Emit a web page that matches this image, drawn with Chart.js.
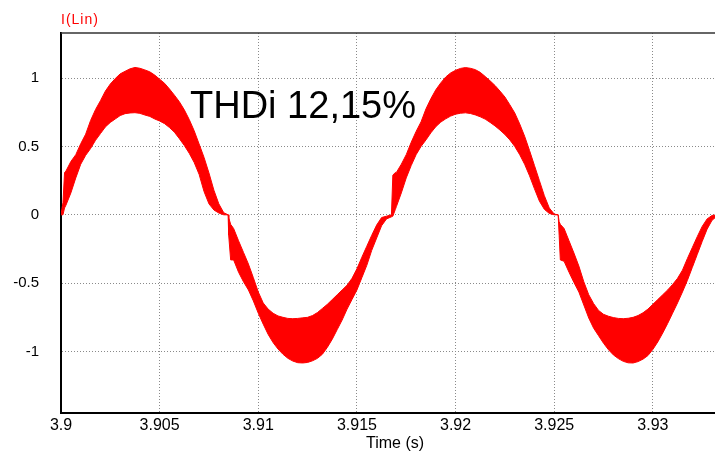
<!DOCTYPE html>
<html>
<head>
<meta charset="utf-8">
<script src="https://cdn.jsdelivr.net/npm/chart.js@4/dist/chart.umd.min.js"></script>
<style>
  html, body { margin: 0; padding: 0; background: #fff; overflow: hidden; }
  canvas { display: block; }
</style>
</head>
<body>
<canvas id="c" width="715" height="451"></canvas>
<script>
// Line current I(Lin): upper and lower edges of the switching-ripple band.
// Time is given in milliseconds after t0.
const t0 = 3.9;
const timeMs = [
  0, 0.1, 0.18, 0.25, 0.5, 0.75, 1.0, 1.25, 1.5, 1.75, 2.0, 2.25, 2.5, 2.75, 3.0, 3.25, 3.5, 3.75,
  4.0, 4.25, 4.5, 4.75, 5.0, 5.25, 5.5, 5.75, 6.0, 6.25, 6.5, 6.75, 7.0, 7.25, 7.5, 7.75, 8.0, 8.25,
  8.47, 8.5, 8.6, 8.75, 9.0, 9.25, 9.5, 9.75, 10.0, 10.25, 10.5, 10.75, 11.0, 11.25, 11.5, 11.75,
  12.0, 12.25, 12.5, 12.75, 13.0, 13.25, 13.5, 13.75, 14.0, 14.25, 14.5, 14.75, 15.0, 15.25, 15.5,
  15.75, 16.0, 16.25, 16.5, 16.75, 16.82, 16.95, 17.0, 17.25, 17.5, 17.75, 18.0, 18.25, 18.5, 18.75,
  19.0, 19.25, 19.5, 19.75, 20.0, 20.25, 20.5, 20.75, 21.0, 21.25, 21.5, 21.75, 22.0, 22.25, 22.5,
  22.75, 23.0, 23.25, 23.5, 23.75, 24.0, 24.25, 24.5, 24.75, 25.0, 25.2, 25.25, 25.31, 25.5, 25.75,
  26.0, 26.25, 26.5, 26.75, 27.0, 27.25, 27.5, 27.75, 28.0, 28.25, 28.5, 28.75, 29.0, 29.25, 29.5,
  29.75, 30.0, 30.25, 30.5, 30.75, 31.0, 31.25, 31.5, 31.75, 32.0, 32.25, 32.5, 32.75, 33.0, 33.25
];
const iUpper = [
  0, 0.09, 0.31, 0.32, 0.39, 0.44, 0.52, 0.59, 0.69, 0.77, 0.835, 0.905, 0.957, 0.997, 1.031, 1.05, 1.068, 1.078,
  1.072, 1.06, 1.046, 1.022, 0.992, 0.962, 0.92, 0.875, 0.827, 0.768, 0.697, 0.615, 0.518, 0.42, 0.306, 0.18, 0.08, 0.015,
  0, -0.02, -0.07, -0.10, -0.19, -0.275, -0.36, -0.46, -0.565, -0.645, -0.69, -0.72, -0.74, -0.75, -0.758, -0.76,
  -0.758, -0.754, -0.75, -0.737, -0.715, -0.685, -0.655, -0.62, -0.585, -0.55, -0.515, -0.465, -0.395, -0.31, -0.23,
  -0.15, -0.075, -0.02, -0.01, 0, 0.29, 0.31, 0.31, 0.37, 0.44, 0.53, 0.61, 0.68, 0.775, 0.85,
  0.915, 0.965, 1.008, 1.038, 1.057, 1.071, 1.077, 1.072, 1.062, 1.042, 1.012, 0.98, 0.946, 0.905, 0.862,
  0.805, 0.745, 0.665, 0.575, 0.47, 0.36, 0.25, 0.14, 0.05, 0.005, 0, -0.05, -0.07, -0.10, -0.19,
  -0.28, -0.375, -0.49, -0.585, -0.65, -0.70, -0.728, -0.742, -0.752, -0.758, -0.76, -0.757, -0.75, -0.737, -0.717,
  -0.69, -0.655, -0.62, -0.585, -0.55, -0.51, -0.465, -0.405, -0.32, -0.24, -0.16, -0.085, -0.03, -0.005, 0
];
const iLower = [
  0, 0, 0.05, 0.07, 0.16, 0.27, 0.37, 0.435, 0.485, 0.545, 0.594, 0.643, 0.676, 0.701, 0.726, 0.74, 0.745, 0.747,
  0.742, 0.73, 0.72, 0.701, 0.686, 0.667, 0.638, 0.604, 0.557, 0.507, 0.45, 0.383, 0.296, 0.17, 0.08, 0.035, 0.013, 0,
  0, -0.15, -0.33, -0.33, -0.42, -0.49, -0.55, -0.63, -0.72, -0.80, -0.875, -0.935, -0.982, -1.02, -1.05, -1.07,
  -1.082, -1.084, -1.08, -1.068, -1.05, -1.02, -0.97, -0.91, -0.84, -0.77, -0.69, -0.62, -0.55, -0.46, -0.37,
  -0.26, -0.17, -0.08, -0.03, -0.015, -0.01, 0.04, 0.06, 0.16, 0.27, 0.36, 0.44, 0.50, 0.548, 0.60,
  0.645, 0.678, 0.702, 0.722, 0.736, 0.743, 0.746, 0.741, 0.731, 0.717, 0.70, 0.676, 0.65, 0.62, 0.587,
  0.548, 0.50, 0.44, 0.37, 0.285, 0.19, 0.10, 0.04, 0.01, 0, 0, -0.15, -0.33, -0.34, -0.42,
  -0.495, -0.565, -0.66, -0.755, -0.83, -0.885, -0.94, -0.987, -1.025, -1.052, -1.072, -1.083, -1.084, -1.074, -1.056,
  -1.03, -0.985, -0.93, -0.865, -0.795, -0.72, -0.645, -0.565, -0.48, -0.385, -0.29, -0.195, -0.105, -0.04, -0.01
];

const xTicks = [3.9, 3.905, 3.91, 3.915, 3.92, 3.925, 3.93];
const xTickLabels = ['3.9', '3.905', '3.91', '3.915', '3.92', '3.925', '3.93'];
const yTicks = [-1, -0.5, 0, 0.5, 1];
const yTickLabels = ['-1', '-0.5', '0', '0.5', '1'];

const seriesName = 'I(Lin)';
const xTitle = 'Time (s)';
const noteText = 'THDi 12,15%';

const FONT = '"Liberation Sans", Arial, Helvetica, sans-serif';
const RED = '#ff0000';

const toPoints = vals => vals.map((v, i) => ({ x: t0 + timeMs[i] / 1000, y: v }));

// Frame top edge, series name, axis title and THD note
const decorations = {
  id: 'decorations',
  afterDraw(chart) {
    const { ctx, chartArea: a, scales } = chart;
    ctx.save();
    ctx.strokeStyle = '#333';
    ctx.lineWidth = 1.5;
    ctx.beginPath();
    ctx.moveTo(a.left, a.top);
    ctx.lineTo(a.right, a.top);
    ctx.stroke();

    ctx.textAlign = 'left';
    ctx.textBaseline = 'alphabetic';
    ctx.fillStyle = RED;
    ctx.font = '14px ' + FONT;
    if ('letterSpacing' in ctx) ctx.letterSpacing = '1px';
    ctx.fillText(seriesName, a.left, 24);
    if ('letterSpacing' in ctx) ctx.letterSpacing = '0px';

    ctx.fillStyle = '#000';
    ctx.font = '16px ' + FONT;
    ctx.textAlign = 'center';
    ctx.fillText(xTitle, (a.left + a.right) / 2 + 7, 448);

    ctx.font = '38px ' + FONT;
    ctx.textAlign = 'left';
    ctx.fillText(noteText, scales.x.getPixelForValue(3.90654), scales.y.getPixelForValue(0.708));
    ctx.restore();
  }
};

new Chart(document.getElementById('c'), {
  type: 'line',
  data: {
    datasets: [
      {
        label: seriesName + ' upper',
        data: toPoints(iUpper),
        borderColor: RED,
        borderWidth: 1,
        pointRadius: 0,
        tension: 0,
        fill: false
      },
      {
        label: seriesName + ' lower',
        data: toPoints(iLower),
        borderColor: RED,
        backgroundColor: RED,
        borderWidth: 1,
        pointRadius: 0,
        tension: 0,
        fill: '-1'
      }
    ]
  },
  options: {
    responsive: false,
    animation: false,
    devicePixelRatio: 1,
    layout: { padding: { top: 33, right: 0, left: 0, bottom: 0 } },
    plugins: {
      legend: { display: false },
      tooltip: { enabled: false },
      title: { display: false }
    },
    scales: {
      x: {
        type: 'linear',
        min: 3.9,
        max: 3.93315,
        afterBuildTicks: s => { s.ticks = xTicks.map(v => ({ value: v })); },
        afterFit: s => { s.height = 38; },
        ticks: {
          autoSkip: false,
          maxRotation: 0,
          padding: 3,
          color: '#000',
          font: { family: FONT, size: 16 },
          callback: (v, i) => xTickLabels[i]
        },
        grid: { color: '#8a8a8a', lineWidth: 1, drawTicks: false },
        border: { display: true, color: '#000', width: 2, dash: [1, 2] }
      },
      y: {
        type: 'linear',
        min: -1.45,
        max: 1.33,
        afterBuildTicks: s => { s.ticks = yTicks.map(v => ({ value: v })); },
        afterFit: s => { s.width = 61; },
        ticks: {
          padding: 22,
          color: '#000',
          font: { family: FONT, size: 15 },
          callback: (v, i) => yTickLabels[i]
        },
        grid: { color: '#8a8a8a', lineWidth: 1, drawTicks: false },
        border: { display: true, color: '#000', width: 2, dash: [1, 2] }
      }
    }
  },
  plugins: [decorations]
});
</script>
</body>
</html>
